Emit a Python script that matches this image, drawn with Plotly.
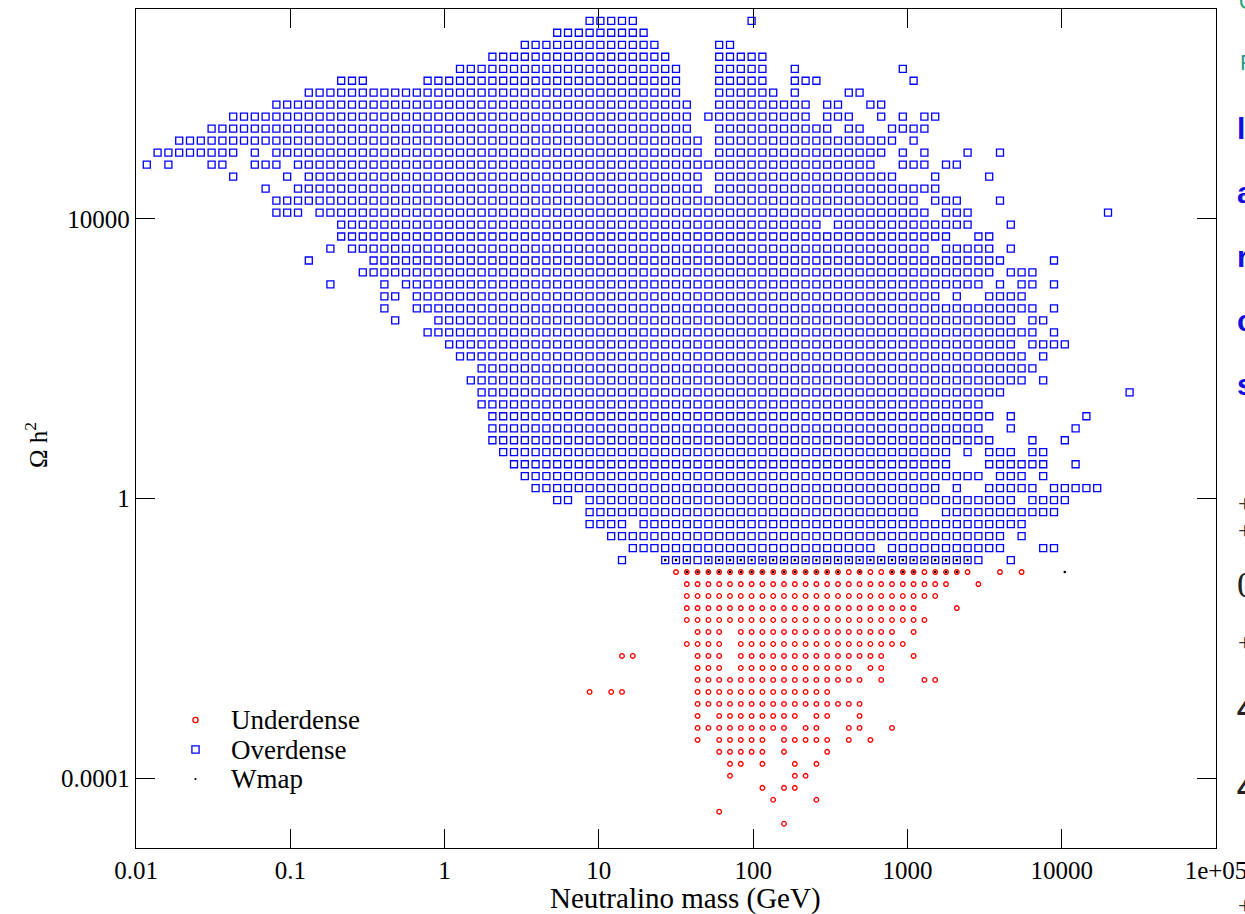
import plotly.graph_objects as go

# log10 of the neutralino-mass grid (GeV), one entry per scan column
LOG_MASS = [
    -1.93, -1.86, -1.79, -1.72, -1.65, -1.58, -1.51, -1.44, -1.37, -1.30,
    -1.23, -1.16, -1.09, -1.02, -0.95, -0.88, -0.81, -0.74, -0.67, -0.60,
    -0.53, -0.46, -0.39, -0.32, -0.25, -0.18, -0.11, -0.04, 0.03, 0.10,
    0.17, 0.24, 0.31, 0.38, 0.45, 0.52, 0.59, 0.66, 0.73, 0.80,
    0.87, 0.94, 1.01, 1.08, 1.15, 1.22, 1.29, 1.36, 1.43, 1.50,
    1.57, 1.64, 1.71, 1.78, 1.85, 1.92, 1.99, 2.06, 2.13, 2.20,
    2.27, 2.34, 2.41, 2.48, 2.55, 2.62, 2.69, 2.76, 2.83, 2.90,
    2.97, 3.04, 3.11, 3.18, 3.25, 3.32, 3.39, 3.46, 3.53, 3.60,
    3.67, 3.74, 3.81, 3.88, 3.95, 4.02, 4.09, 4.16, 4.23, 4.30,
    4.37, 4.44, 4.51,
]

# log10 of the relic-density grid (Omega h^2), one entry per scan row (top to bottom)
LOG_OMEGA = [
    6.831, 6.660, 6.488, 6.317, 6.145, 5.974, 5.803, 5.631, 5.460, 5.288,
    5.117, 4.946, 4.774, 4.603, 4.431, 4.260, 4.089, 3.917, 3.746, 3.574,
    3.403, 3.232, 3.060, 2.889, 2.717, 2.546, 2.375, 2.203, 2.032, 1.860,
    1.689, 1.518, 1.346, 1.175, 1.003, 0.832, 0.661, 0.489, 0.318, 0.146,
    -0.025, -0.196, -0.368, -0.539, -0.711, -0.882, -1.053, -1.225, -1.396, -1.568,
    -1.739, -1.910, -2.082, -2.253, -2.425, -2.596, -2.767, -2.939, -3.110, -3.282,
    -3.453, -3.624, -3.796, -3.967, -4.139, -4.310, -4.481, -4.653,
]

# Overdense models: occupied mass columns for omega rows 0..45
OVERDENSE_COLS = [
    "41-45 56",
    "38-46",
    "35-47 53-54",
    "32-48 53-57",
    "29-49 53-57 60 70",
    "18-20 26-49 53-57 60-62 71",
    "15-49 53-58 60 65-66",
    "12-50 53-61 63-64 67-68",
    "8-50 52-61 63-65 68 70 72-73",
    "6-50 53-63 65-66 69-72",
    "3-51 53-69 71",
    "1-8 10 12-51 53-68 70 72 76 79",
    "0 2 6-7 10-12 14-67 70-72 74-75",
    "8 13 15-51 53-69 73 78",
    "11 14-51 53-73",
    "12-71 73-75 79",
    "12-14 16-72 74-76 89",
    "18-62 64-76 80",
    "18-74 77-78",
    "17 19-72 74-78 80",
    "15 21-79 84",
    "20-78 80-82",
    "17 22 24-77 79 81-82 84",
    "22-23 25-73 75 78-81",
    "22 25-82 84",
    "23 27-80 82-83",
    "26-82 84",
    "28-80 82-85",
    "29-81 83",
    "31-82",
    "30-81 83",
    "31-79 91",
    "31-77",
    "32-78 80 87",
    "32-77 80 86",
    "32-78 82 85",
    "33-74 76 78-80 82-83",
    "34-74 78-83 86",
    "35-77 79-81 83",
    "36-73 75 78-82 84-88",
    "38-39 41-80 82-85",
    "41-71 74-84",
    "41-44 46-81",
    "43-79 81",
    "45-67 69-79 83-84",
    "44 48-77 80",
]

# Underdense models: occupied mass columns for omega rows 46..67
UNDERDENSE_FIRST_ROW = 46
UNDERDENSE_COLS = [
    "49-76 79 81",
    "50-74 77",
    "50-73",
    "50-71 75",
    "50-72",
    "51-53 55-69 71",
    "50-53 55-70",
    "44-45 51-53 55-68 71",
    "51-53 55-65 67-68",
    "51-66 68 72-73",
    "41 43-44 51-63",
    "51-66",
    "51 53-60 62-63 66",
    "51-59 61-62 65-66 69",
    "51 53-57 59-63 65 67",
    "53-57 59 63",
    "54-55 57 60 62",
    "54 60-61",
    "57 59-60",
    "58 62",
    "53",
    "59",
]

# Models inside the WMAP band: (omega row, mass columns)
WMAP_ROWS = [45, 46]
WMAP_COLS = ["48-50 52-76", "50-64 66 69-71 73-75 85"]

X_TICKS = [0.01, 0.1, 1, 10, 100, 1000, 10000, 100000]
X_TICK_TEXT = ["0.01", "0.1", "1", "10", "100", "1000", "10000", "1e+05"]
Y_TICKS = [1e-4, 1, 1e4]
Y_TICK_TEXT = ["0.0001", "1", "10000"]

LEGEND_LABELS = ["Underdense", "Overdense", "Wmap"]


def expand(spec):
    cols = []
    for part in spec.split():
        if "-" in part:
            a, b = part.split("-")
            cols.extend(range(int(a), int(b) + 1))
        else:
            cols.append(int(part))
    return cols


def points(rows, specs):
    xs, ys = [], []
    for row, spec in zip(rows, specs):
        for col in expand(spec):
            xs.append(10 ** LOG_MASS[col])
            ys.append(10 ** LOG_OMEGA[row])
    return xs, ys


over_x, over_y = points(range(len(OVERDENSE_COLS)), OVERDENSE_COLS)
under_rows = range(UNDERDENSE_FIRST_ROW, UNDERDENSE_FIRST_ROW + len(UNDERDENSE_COLS))
under_x, under_y = points(under_rows, UNDERDENSE_COLS)
wmap_x, wmap_y = points(WMAP_ROWS, WMAP_COLS)

SERIF = "Liberation Serif, Times New Roman, serif"
RED = "#ff0000"
BLUE = "#0000ff"

fig = go.Figure()
fig.add_trace(go.Scatter(
    x=under_x, y=under_y, mode="markers", name=LEGEND_LABELS[0], showlegend=False,
    marker=dict(symbol="circle-open", size=4.6, color=RED, line=dict(width=1.3, color=RED)),
))
fig.add_trace(go.Scatter(
    x=over_x, y=over_y, mode="markers", name=LEGEND_LABELS[1], showlegend=False,
    marker=dict(symbol="square-open", size=7, color=BLUE, line=dict(width=1.3, color=BLUE)),
))
fig.add_trace(go.Scatter(
    x=wmap_x, y=wmap_y, mode="markers", name=LEGEND_LABELS[2], showlegend=False,
    marker=dict(symbol="circle", size=2.6, color="black", line=dict(width=0)),
))

L, R, T, B = 136, 29, 9, 66
W, H = 1245, 914
PW, PH = W - L - R, H - T - B


def px(x):
    return (x - L) / PW


def py(y):
    return (H - B - y) / PH


# hand-drawn key in the lower-left corner
shapes = []
keys_y = [720, 749.5, 779]
sx = 195.5
shapes.append(dict(type="circle", xref="paper", yref="paper",
                   x0=px(sx - 2.6), x1=px(sx + 2.6), y0=py(keys_y[0] + 2.6), y1=py(keys_y[0] - 2.6),
                   line=dict(color=RED, width=1.3)))
shapes.append(dict(type="rect", xref="paper", yref="paper",
                   x0=px(sx - 3.6), x1=px(sx + 3.6), y0=py(keys_y[1] + 3.6), y1=py(keys_y[1] - 3.6),
                   line=dict(color=BLUE, width=1.3)))
shapes.append(dict(type="circle", xref="paper", yref="paper",
                   x0=px(sx - 1.1), x1=px(sx + 1.1), y0=py(keys_y[2] + 1.1), y1=py(keys_y[2] - 1.1),
                   fillcolor="black", line=dict(color="black", width=0)))

annotations = []
for label, ky in zip(LEGEND_LABELS, keys_y):
    annotations.append(dict(text=label, xref="paper", yref="paper", x=px(229), y=py(ky),
                            xanchor="left", yanchor="middle", showarrow=False,
                            font=dict(family=SERIF, size=27, color="black")))

annotations.append(dict(text="Neutralino mass (GeV)", xref="paper", yref="paper",
                        x=px(685), y=py(898), xanchor="center", yanchor="middle", showarrow=False,
                        font=dict(family=SERIF, size=29, color="black")))
annotations.append(dict(text="Ω h<sup>2</sup>", xref="paper", yref="paper",
                        x=px(36), y=py(445), xanchor="center", yanchor="middle", showarrow=False,
                        textangle=-90, font=dict(family=SERIF, size=25, color="black")))

# neighbouring page text cut off at the right edge
edge_text = [
    ("Q", 1237, 2, 22, "#2a9d7f", "Liberation Sans", False),
    ("P", 1238, 63, 22, "#2a9d7f", "Liberation Sans", False),
    ("l", 1235, 128, 30, "#1010e0", "Liberation Sans", True),
    ("a", 1235, 192, 30, "#1010e0", "Liberation Sans", True),
    ("r", 1235, 256, 30, "#1010e0", "Liberation Sans", True),
    ("c", 1235, 320, 30, "#1010e0", "Liberation Sans", True),
    ("s", 1235, 384, 30, "#1010e0", "Liberation Sans", True),
    ("+", 1236, 503, 24, "#333333", "Liberation Serif", False),
    ("+", 1236, 530, 24, "#333333", "Liberation Serif", False),
    ("0", 1235, 585, 36, "#222222", "Liberation Serif", False),
    ("+", 1236, 642, 24, "#333333", "Liberation Serif", False),
    ("4", 1235, 708, 30, "#222222", "Liberation Sans", True),
    ("4", 1235, 787, 30, "#222222", "Liberation Sans", True),
    ("+", 1236, 905, 24, "#333333", "Liberation Serif", False),
]
for txt, ex, ey, fs, col, fam, bold in edge_text:
    annotations.append(dict(text=f"<b>{txt}</b>" if bold else txt, xref="paper", yref="paper",
                            x=px(ex), y=py(ey), xanchor="left", yanchor="middle", showarrow=False,
                            font=dict(family=fam, size=fs, color=col)))

axis_common = dict(
    type="log", showgrid=False, zeroline=False, showline=True, linecolor="black", linewidth=1.3,
    mirror="ticks", ticks="inside", ticklen=19, tickwidth=1.3, tickcolor="black",
    ticklabeloverflow="allow", automargin=False,
    tickfont=dict(family=SERIF, size=25, color="black"),
)

fig.update_layout(
    width=W, height=H,
    margin=dict(l=L, r=R, t=T, b=B, autoexpand=False),
    paper_bgcolor="white", plot_bgcolor="white",
    showlegend=False,
    xaxis=dict(range=[-2, 5], tickmode="array", tickvals=X_TICKS, ticktext=X_TICK_TEXT, **axis_common),
    yaxis=dict(range=[-5, 7], tickmode="array", tickvals=Y_TICKS, ticktext=Y_TICK_TEXT, **axis_common),
    shapes=shapes,
    annotations=annotations,
)

fig.write_html("out.html")
